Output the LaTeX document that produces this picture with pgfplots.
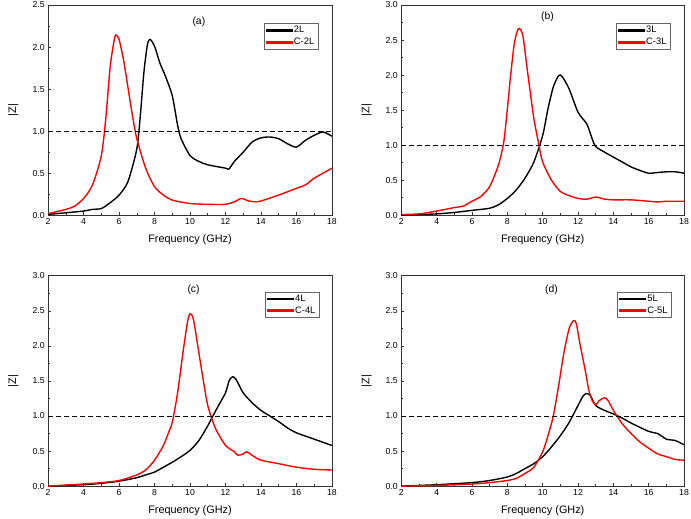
\documentclass[border=0pt]{standalone}
\usepackage{pgfplots}
\pgfplotsset{compat=1.18}
\usepackage{fontspec}
\setmainfont{Liberation Sans}
\begin{document}
\pgfplotsset{
  panel/.style={
    scale only axis, width=286bp, height=212bp,
    xmin=2, xmax=18, ymin=0,
    xtick={2,4,...,18}, minor x tick num=1,
    minor y tick num=1,
    tick align=inside, xtick pos=bottom, ytick pos=left,
    major tick length=3bp, minor tick length=2bp,
    axis line style={black!80, line width=0.6bp},
    every tick/.style={black!80, line width=0.6bp},
    tick label style={font=\fontsize{8.8}{10}\selectfont},
    /pgf/number format/assume math mode=true,
    /pgf/number format/fixed, /pgf/number format/fixed zerofill, /pgf/number format/precision=1,
    xticklabel style={/pgf/number format/precision=0, /pgf/number format/fixed zerofill=false},
    xlabel={Frequency (GHz)}, ylabel={|Z|},
    label style={font=\fontsize{11}{13}\selectfont},
    xlabel style={at={(axis description cs:0.5,-0.118)}, anchor=center},
    ylabel style={at={(axis description cs:-0.123,0.5)}, anchor=center, rotate=0},
    legend cell align=left,
    legend style={draw=black!60, font=\fontsize{9.5}{10}\selectfont, inner xsep=1.5bp, inner ysep=1bp, anchor=north east},
    legend image code/.code={\fill[#1] (0bp,-1bp) rectangle (26bp,1bp);},
  },
  cb/.style={black, line width=1.4bp, smooth, tension=0.45, forget plot},
  cr/.style={red, line width=1.4bp, smooth, tension=0.45, forget plot},
}
\newcommand{\legpair}[2]{%
  \addlegendimage{black}\addlegendentry{#1}
  \addlegendimage{red}\addlegendentry{#2}}
\begin{tikzpicture}[x=1bp,y=1bp]
\path[use as bounding box] (0,0) rectangle (691,-523);

% (a)
\begin{axis}[panel, at={(43bp,-5bp)}, anchor=north west, ymax=2.5, ytick={0,0.5,...,2.5},
  legend style={at={(axis description cs:0.951,0.915)}}]
\legpair{2L}{C-2L}
\addplot[cb] coordinates {(2,0.01)(3,0.03)(4,0.05)(4.5,0.07)(5,0.08)(5.5,0.15)(6,0.24)(6.5,0.40)(7,0.79)(7.2,1.19)(7.4,1.70)(7.6,2.03)(7.75,2.09)(8,2.01)(8.3,1.81)(8.6,1.66)(9,1.42)(9.3,1.07)(9.5,0.91)(10,0.71)(10.5,0.64)(11,0.60)(12,0.56)(12.2,0.55)(12.5,0.64)(13,0.75)(13.5,0.87)(14,0.92)(14.5,0.93)(15,0.91)(15.5,0.85)(16,0.81)(16.5,0.89)(17,0.95)(17.5,0.99)(18,0.94)};
\addplot[cr] coordinates {(2,0.02)(3,0.07)(3.5,0.11)(4,0.20)(4.5,0.36)(5,0.71)(5.25,1.15)(5.5,1.77)(5.75,2.11)(5.85,2.14)(6,2.09)(6.25,1.85)(6.5,1.52)(6.75,1.19)(7,0.91)(7.5,0.56)(8,0.34)(8.5,0.24)(9,0.18)(10,0.14)(11,0.13)(12,0.13)(12.5,0.16)(12.9,0.20)(13.3,0.17)(13.7,0.16)(14,0.17)(15,0.24)(16,0.32)(16.5,0.36)(17,0.44)(17.5,0.50)(18,0.56)};
\addplot[black, line width=0.9bp, dash pattern=on 5bp off 3bp, forget plot] coordinates {(2,1)(18,1)};
\node[font=\fontsize{10.5}{12}\selectfont] at (axis cs:10.5,2.30) {(a)};
\end{axis}

% (b)
\begin{axis}[panel, at={(399bp,-5bp)}, anchor=north west, width=285bp, ymax=3.0, ytick={0,0.5,...,3.0},
  legend style={at={(axis description cs:0.951,0.915)}}]
\legpair{3L}{C-3L}
\addplot[cb] coordinates {(2,0)(3,0.01)(4,0.02)(5,0.04)(6,0.07)(7,0.10)(7.5,0.15)(8,0.24)(8.5,0.36)(9,0.53)(9.5,0.76)(10,1.14)(10.3,1.52)(10.6,1.83)(10.9,1.99)(11.1,1.98)(11.5,1.80)(12,1.47)(12.5,1.30)(12.8,1.09)(13,0.98)(13.5,0.90)(14,0.83)(14.5,0.76)(15,0.69)(15.5,0.64)(16,0.60)(16.5,0.61)(17,0.62)(17.5,0.62)(18,0.60)};
\addplot[cr] coordinates {(2,0.01)(3,0.02)(4,0.06)(5,0.11)(5.5,0.13)(6,0.20)(6.5,0.27)(7,0.41)(7.5,0.72)(7.8,1.05)(8,1.52)(8.2,2.03)(8.4,2.46)(8.6,2.65)(8.75,2.65)(8.9,2.53)(9.1,2.13)(9.3,1.75)(9.5,1.38)(9.75,1.05)(10,0.76)(10.5,0.50)(11,0.34)(11.5,0.28)(12,0.24)(12.5,0.23)(13,0.26)(13.5,0.23)(14,0.22)(15,0.22)(16,0.20)(16.5,0.19)(17,0.20)(18,0.20)};
\addplot[black, line width=0.9bp, dash pattern=on 5bp off 3bp, forget plot] coordinates {(2,1)(18,1)};
\node[font=\fontsize{10.5}{12}\selectfont] at (axis cs:10.27,2.83) {(b)};
\end{axis}

% (c)
\begin{axis}[panel, at={(43bp,-278bp)}, anchor=north west, ymax=3.0, ytick={0,0.5,...,3.0},
  legend style={at={(axis description cs:0.955,0.925)}}]
\legpair{4L}{C-4L}
\addplot[cb] coordinates {(2,0)(4,0.02)(5,0.04)(6,0.07)(7,0.12)(7.5,0.16)(8,0.20)(8.5,0.27)(9,0.34)(9.5,0.42)(10,0.51)(10.5,0.65)(11,0.86)(11.5,1.10)(12,1.33)(12.2,1.50)(12.4,1.56)(12.6,1.52)(13,1.33)(13.5,1.19)(14,1.08)(14.5,1.00)(15,0.92)(15.5,0.83)(16,0.76)(17,0.67)(18,0.58)};
\addplot[cr] coordinates {(2,0)(4,0.03)(5,0.05)(6,0.08)(7,0.16)(7.5,0.23)(8,0.37)(8.5,0.58)(8.8,0.77)(9,0.91)(9.3,1.33)(9.6,1.90)(9.85,2.33)(10,2.46)(10.2,2.37)(10.5,1.90)(10.8,1.43)(11,1.15)(11.3,0.91)(11.5,0.79)(12,0.58)(12.5,0.49)(12.7,0.44)(13,0.46)(13.2,0.49)(13.5,0.44)(14,0.37)(15,0.32)(16,0.27)(17,0.24)(18,0.23)};
\addplot[black, line width=0.9bp, dash pattern=on 5bp off 3bp, forget plot] coordinates {(2,1)(18,1)};
\node[font=\fontsize{10.5}{12}\selectfont] at (axis cs:10.2,2.80) {(c)};
\end{axis}

% (d)
\begin{axis}[panel, at={(399bp,-278bp)}, anchor=north west, width=285bp, ymax=3.0, ytick={0,0.5,...,3.0},
  legend style={at={(axis description cs:0.955,0.925)}}]
\legpair{5L}{C-5L}
\addplot[cb] coordinates {(2,0)(4,0.02)(6,0.05)(7,0.08)(8,0.13)(8.5,0.18)(9,0.25)(9.5,0.32)(10,0.42)(10.5,0.56)(11,0.72)(11.5,0.91)(12,1.15)(12.3,1.29)(12.5,1.32)(12.7,1.29)(13,1.15)(13.5,1.08)(14,1.03)(14.5,0.97)(15,0.90)(16,0.78)(16.5,0.75)(17,0.67)(17.5,0.65)(18,0.59)};
\addplot[cr] coordinates {(2,0)(4,0.01)(6,0.03)(7,0.05)(8,0.08)(8.5,0.11)(9,0.18)(9.5,0.27)(10,0.49)(10.3,0.72)(10.6,1.00)(10.9,1.43)(11.2,1.90)(11.5,2.25)(11.75,2.36)(11.9,2.32)(12.1,2.04)(12.4,1.66)(12.6,1.38)(12.8,1.22)(13,1.16)(13.2,1.22)(13.5,1.26)(13.7,1.22)(14,1.08)(14.5,0.89)(15,0.75)(15.5,0.63)(16,0.54)(16.5,0.46)(17,0.42)(17.5,0.38)(18,0.37)};
\addplot[black, line width=0.9bp, dash pattern=on 5bp off 3bp, forget plot] coordinates {(2,1)(18,1)};
\node[font=\fontsize{10.5}{12}\selectfont] at (axis cs:10.5,2.80) {(d)};
\end{axis}
\end{tikzpicture}
\end{document}
